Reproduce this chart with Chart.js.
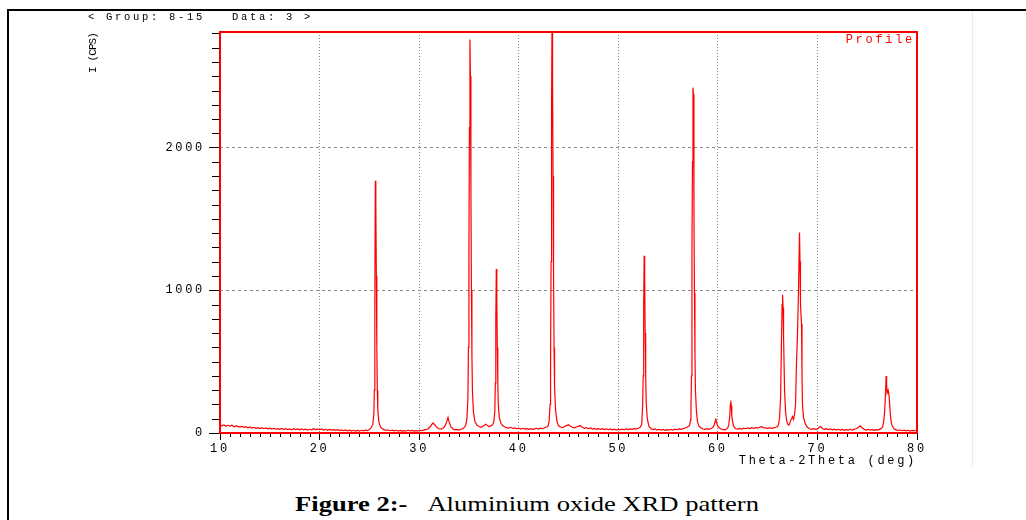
<!DOCTYPE html>
<html>
<head>
<meta charset="utf-8">
<title>Aluminium oxide XRD pattern</title>
<script src="https://cdn.jsdelivr.net/npm/chart.js@4.4.0/dist/chart.umd.min.js"></script>
<style>
  body { margin: 0; background: #fff; }
  #page { position: relative; width: 1026px; height: 520px; overflow: hidden; background: #fff; }
  #xrd { position: absolute; left: 0; top: 0; }
  .rule-top { position: absolute; left: 7px; top: 9px; width: 1019px; height: 2px; background: #000; }
  .rule-left { position: absolute; left: 7px; top: 9px; width: 2px; height: 511px; background: #000; }
  .rule-faint { position: absolute; left: 972px; top: 11px; width: 1px; height: 455px; background: #ecebdc; }
  #caption {
    position: absolute; left: 295px; top: 494px; white-space: nowrap;
    font-family: "Liberation Serif", "Times New Roman", serif; font-size: 21px; line-height: 21px;
    color: #000; transform: scaleX(1.266); transform-origin: 0 0;
  }
</style>
</head>
<body>
<div id="page">
  <div class="rule-top"></div>
  <div class="rule-left"></div>
  <div class="rule-faint"></div>
  <canvas id="xrd" width="1026" height="470"></canvas>
  <div id="caption"><b>Figure 2:-</b>&nbsp;&nbsp;&nbsp;Aluminium oxide XRD pattern</div>
</div>
<script>
// scan, [2theta (deg), intensity (cps)]
const bg10to25 = [
    [10.0, 58], [10.2, 50], [10.4, 56], [10.6, 47], [10.8, 54], [11.0, 49], [11.2, 55], [11.4, 44],
    [11.6, 50], [11.8, 46], [12.0, 41], [12.2, 47], [12.4, 39], [12.6, 44], [12.8, 36], [13.0, 42],
    [13.2, 35], [13.4, 40], [13.6, 33], [13.8, 38], [14.0, 31], [14.2, 37], [14.4, 30], [14.6, 35],
    [14.8, 29], [15.0, 34], [15.2, 28], [15.4, 33], [15.6, 27], [15.8, 31], [16.0, 26], [16.2, 32],
    [16.4, 25], [16.6, 30], [16.8, 24], [17.0, 29], [17.2, 23], [17.4, 31], [17.6, 24], [17.8, 28],
    [18.0, 22], [18.2, 29], [18.4, 23], [18.6, 27], [18.8, 21], [19.0, 26], [19.2, 22], [19.4, 30],
    [19.6, 24], [19.8, 27], [20.0, 23], [20.2, 28], [20.4, 21], [20.6, 26], [20.8, 19], [21.0, 25],
    [21.2, 20], [21.4, 24], [21.6, 18], [21.8, 23], [22.0, 17], [22.2, 22], [22.4, 16], [22.6, 21],
    [22.8, 15], [23.0, 20], [23.2, 14], [23.4, 19], [23.6, 13], [23.8, 18], [24.0, 14], [24.2, 19],
    [24.4, 15], [24.6, 20], [24.8, 17], [25.0, 24], [25.1, 30], [25.2, 40]
];
const peak25 = [
    [25.35, 60], [25.45, 130], [25.5, 300], [25.55, 900], [25.6, 1768], [25.65, 1600],
    [25.7, 1100], [25.75, 600], [25.8, 300], [25.85, 160], [25.95, 80]
];
const bg26to34 = [
    [26.1, 45], [26.3, 30], [26.5, 22], [26.7, 18], [26.9, 21], [27.1, 16], [27.3, 20], [27.5, 15],
    [27.7, 19], [27.9, 14], [28.1, 18], [28.3, 13], [28.5, 17], [28.7, 14], [28.9, 19], [29.1, 15],
    [29.3, 18], [29.5, 13], [29.7, 17], [29.9, 14], [30.1, 19], [30.3, 16], [30.5, 22], [30.7, 25],
    [30.9, 30], [31.1, 42], [31.25, 58], [31.4, 70], [31.6, 55], [31.8, 38], [32.0, 30], [32.2, 27],
    [32.4, 33], [32.6, 50], [32.8, 85], [32.9, 110], [33.0, 80], [33.2, 42], [33.4, 28], [33.6, 22],
    [33.8, 25], [34.0, 20], [34.2, 26], [34.4, 30], [34.5, 38]
];
const peak35 = [
    [34.6, 45], [34.7, 60], [34.8, 100], [34.9, 250], [34.95, 600], [35.0, 1300], [35.05, 2140],
    [35.1, 2758], [35.15, 2500], [35.2, 1700], [35.25, 1000], [35.3, 550], [35.35, 300],
    [35.45, 150], [35.6, 80], [35.8, 55]
];
const bg36to37 = [
    [36.0, 45], [36.2, 40], [36.4, 48], [36.6, 58], [36.7, 62], [36.8, 55], [37.0, 45], [37.2, 50], [37.3, 55]
];
const peak37 = [
    [37.4, 60], [37.5, 80], [37.6, 150], [37.65, 350], [37.7, 800], [37.75, 1150], [37.8, 950],
    [37.85, 600], [37.9, 350], [37.95, 200], [38.05, 110], [38.2, 70]
];
const bg38to42 = [
    [38.4, 50], [38.6, 42], [38.8, 38], [39.0, 35], [39.2, 40], [39.4, 32], [39.6, 36], [39.8, 30],
    [40.0, 34], [40.2, 28], [40.4, 33], [40.6, 27], [40.8, 31], [41.0, 26], [41.2, 30], [41.4, 25],
    [41.6, 29], [41.8, 33], [42.0, 28], [42.2, 34], [42.4, 30], [42.6, 37], [42.8, 42]
];
const peak43 = [
    [42.95, 50], [43.05, 80], [43.15, 200], [43.2, 500], [43.25, 1200], [43.3, 2300], [43.35, 2950],
    [43.4, 2456], [43.45, 1800], [43.5, 1100], [43.55, 600], [43.6, 330], [43.7, 160], [43.85, 80]
];
const bg44to52 = [
    [44.0, 50], [44.2, 42], [44.4, 38], [44.6, 45], [44.8, 52], [45.0, 58], [45.2, 48], [45.4, 40],
    [45.6, 36], [45.8, 42], [46.0, 48], [46.2, 52], [46.4, 40], [46.6, 33], [46.8, 37], [47.0, 30],
    [47.2, 35], [47.4, 28], [47.6, 32], [47.8, 26], [48.0, 31], [48.2, 25], [48.4, 30], [48.6, 24],
    [48.8, 29], [49.0, 23], [49.2, 28], [49.4, 22], [49.6, 27], [49.8, 21], [50.0, 26], [50.2, 22],
    [50.4, 27], [50.6, 23], [50.8, 28], [51.0, 24], [51.2, 29], [51.4, 25], [51.6, 30], [51.8, 27],
    [52.0, 33], [52.2, 40]
];
const peak52 = [
    [52.35, 60], [52.45, 200], [52.5, 400], [52.55, 900], [52.6, 1242], [52.65, 1100], [52.7, 700],
    [52.75, 400], [52.8, 220], [52.9, 110], [53.0, 70]
];
const bg53to57 = [
    [53.1, 45], [53.3, 30], [53.5, 24], [53.7, 28], [53.9, 21], [54.1, 26], [54.3, 20], [54.5, 25],
    [54.7, 19], [54.9, 24], [55.1, 20], [55.3, 26], [55.5, 21], [55.7, 27], [55.9, 23], [56.1, 29],
    [56.3, 25], [56.5, 31], [56.7, 35], [56.9, 40], [57.0, 45]
];
const peak57 = [
    [57.15, 50], [57.25, 90], [57.3, 180], [57.35, 400], [57.4, 1272], [57.45, 1900], [57.5, 2420],
    [57.55, 2372], [57.6, 1553], [57.65, 982], [57.7, 550], [57.75, 300], [57.85, 150], [57.95, 80]
];
const bg58to61 = [
    [58.1, 50], [58.3, 35], [58.5, 28], [58.7, 25], [58.9, 30], [59.1, 26], [59.3, 32], [59.45, 36],
    [59.55, 45], [59.65, 60], [59.75, 85], [59.8, 103], [59.85, 80], [59.95, 55],
    [60.1, 38], [60.3, 28], [60.5, 25], [60.7, 22], [60.9, 30]
];
const peak61 = [
    [61.0, 35], [61.1, 60], [61.2, 120], [61.25, 200], [61.3, 227], [61.35, 190], [61.4, 120],
    [61.5, 70], [61.6, 45]
];
const bg62to66 = [
    [61.8, 30], [62.0, 27], [62.2, 32], [62.4, 28], [62.6, 34], [62.8, 30], [63.0, 36], [63.2, 31],
    [63.4, 37], [63.6, 33], [63.8, 38], [64.0, 34], [64.2, 40], [64.4, 45], [64.6, 38], [64.8, 36],
    [65.0, 33], [65.2, 38], [65.4, 32], [65.6, 36], [65.8, 40]
];
const peak66to68 = [
    [66.0, 45], [66.1, 60], [66.2, 110], [66.3, 250], [66.4, 688], [66.45, 900], [66.5, 968],
    [66.55, 877], [66.6, 676], [66.7, 300], [66.8, 150], [66.9, 90], [67.0, 65], [67.1, 56],
    [67.2, 62], [67.3, 85], [67.4, 100], [67.5, 115], [67.6, 95], [67.7, 130], [67.8, 200],
    [67.9, 500], [68.0, 700], [68.1, 1000], [68.2, 1405], [68.25, 1202], [68.3, 900], [68.4, 765],
    [68.45, 400], [68.5, 200], [68.6, 110], [68.8, 60]
];
const bg69to76 = [
    [69.0, 40], [69.2, 30], [69.4, 26], [69.6, 30], [69.8, 25], [70.0, 29], [70.2, 40], [70.3, 45],
    [70.5, 32], [70.7, 26], [70.9, 30], [71.1, 24], [71.3, 28], [71.5, 22], [71.7, 27], [71.9, 21],
    [72.1, 26], [72.3, 20], [72.5, 25], [72.7, 19], [72.9, 24], [73.1, 20], [73.3, 26], [73.5, 21],
    [73.7, 27], [73.9, 30], [74.1, 38], [74.3, 50], [74.5, 35], [74.7, 25], [74.9, 21], [75.1, 26],
    [75.3, 20], [75.5, 24], [75.7, 19], [75.9, 23], [76.1, 22], [76.3, 27]
];
const peak77 = [
    [76.45, 35], [76.55, 45], [76.65, 80], [76.75, 150], [76.85, 300], [76.9, 400], [76.95, 330],
    [77.0, 280], [77.1, 300], [77.2, 260], [77.3, 150], [77.4, 80], [77.5, 50]
];
const bg77to80 = [
    [77.7, 30], [77.9, 22], [78.1, 18], [78.3, 21], [78.5, 16], [78.7, 20], [78.9, 15], [79.1, 19],
    [79.3, 14], [79.5, 18], [79.7, 15], [79.9, 19], [80.0, 16]
];

const xTicks = [10, 20, 30, 40, 50, 60, 70, 80];
const yTicks = [0, 1000, 2000];
const headerText = '< Group: 8-15   Data: 3 >';
const xTitle = 'Theta-2Theta (deg)';
const yTitle = 'I (CPS)';
const profileText = 'Profile';

const scan = [].concat(bg10to25, peak25, bg26to34, peak35, bg36to37, peak37, bg38to42, peak43,
    bg44to52, peak52, bg53to57, peak57, bg58to61, peak61, bg62to66, peak66to68, bg69to76, peak77, bg77to80);

const RED = '#ff0000';
const MONO = '"Liberation Mono", "Courier New", monospace';

// wide spaced lettering of the instrument print-out
const spacing = {
    id: 'spacing',
    beforeDraw(chart) {
        chart.ctx.letterSpacing = '2.7px';
    }
};

// frame, minor ticks, "Profile" tag and the rotated y label
const frame = {
    id: 'frame',
    afterDraw(chart) {
        const {ctx, chartArea: a, scales: {x, y}} = chart;
        ctx.save();
        ctx.strokeStyle = RED;
        ctx.lineWidth = 2;
        ctx.strokeRect(a.left, a.top, a.right - a.left, a.bottom - a.top);

        ctx.strokeStyle = '#000';
        ctx.lineWidth = 1;
        ctx.beginPath();
        for (let v = x.min + 1; v < x.max; v++) {
            if (v % 10 === 0) continue;
            const px = Math.round(x.getPixelForValue(v)) + 0.5;
            ctx.moveTo(px, a.bottom + 1);
            ctx.lineTo(px, a.bottom + 4);
        }
        for (let v = 100; v < y.max; v += 100) {
            if (v % 1000 === 0) continue;
            const py = Math.round(y.getPixelForValue(v)) + 0.5;
            ctx.moveTo(a.left - 8, py);
            ctx.lineTo(a.left - 1, py);
        }
        ctx.stroke();

        ctx.letterSpacing = '2.7px';
        ctx.font = '12px ' + MONO;
        ctx.fillStyle = RED;
        ctx.textAlign = 'right';
        ctx.textBaseline = 'middle';
        ctx.fillText(profileText, a.right - 2, a.top + 8);

        ctx.letterSpacing = '-0.9px';
        ctx.font = '11px ' + MONO;
        ctx.fillStyle = '#000';
        ctx.translate(93, a.top + 1);
        ctx.rotate(-Math.PI / 2);
        ctx.fillText(yTitle, 0, 0);
        ctx.restore();
    }
};

new Chart(document.getElementById('xrd').getContext('2d'), {
    type: 'line',
    data: {
        datasets: [
            {
                label: 'Profile',
                data: Array.from(scan, p => ({x: p[0], y: p[1]})),
                borderColor: RED,
                borderWidth: 1.2,
                pointRadius: 0,
                tension: 0,
                fill: false
            }
        ]
    },
    options: {
        responsive: false,
        animation: false,
        devicePixelRatio: 1,
        layout: {
            padding: {top: 8, left: 88, right: 109, bottom: 0}
        },
        scales: {
            x: {
                type: 'linear',
                min: xTicks[0],
                max: xTicks[xTicks.length - 1],
                afterBuildTicks: s => { s.ticks = xTicks.map(v => ({value: v})); },
                afterFit: s => { s.height = 37; },
                ticks: {
                    autoSkip: false,
                    maxRotation: 0,
                    padding: 2,
                    color: '#000',
                    font: {family: MONO, size: 12},
                    callback: v => String(v)
                },
                grid: {
                    color: c => (c.tick && c.tick.value > 10 && c.tick.value < 80) ? '#8a8a8a' : 'rgba(0,0,0,0)',
                    tickColor: '#000',
                    tickLength: 7,
                    lineWidth: 1
                },
                border: {display: false, dash: [1, 2]},
                title: {
                    display: true,
                    text: xTitle,
                    align: 'end',
                    color: '#000',
                    font: {family: MONO, size: 12},
                    padding: {top: 0, bottom: 2}
                }
            },
            y: {
                type: 'linear',
                min: 0,
                max: 2810,
                afterBuildTicks: s => { s.ticks = yTicks.map(v => ({value: v})); },
                afterFit: s => { s.width = 132; },
                ticks: {
                    padding: 4,
                    color: '#000',
                    font: {family: MONO, size: 12},
                    callback: v => String(v)
                },
                grid: {
                    color: c => (c.tick && c.tick.value > 0) ? '#8a8a8a' : 'rgba(0,0,0,0)',
                    tickColor: '#000',
                    tickLength: 11,
                    lineWidth: 1
                },
                border: {display: false, dash: [3, 3]},
                title: {display: false}
            }
        },
        plugins: {
            legend: {display: false},
            tooltip: {enabled: false},
            title: {
                display: true,
                text: headerText,
                align: 'start',
                color: '#000',
                font: {family: MONO, size: 10.5, weight: 'normal'},
                padding: {top: 3, bottom: 8.4}
            }
        }
    },
    plugins: [spacing, frame]
});
</script>
</body>
</html>
